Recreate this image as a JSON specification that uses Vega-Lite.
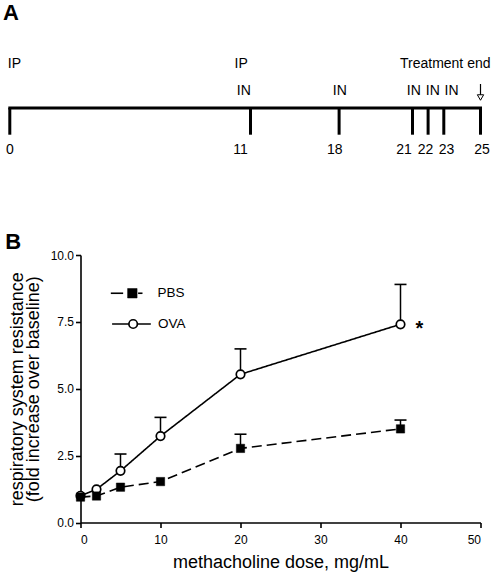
{
  "$schema": "https://vega.github.io/schema/vega-lite/v6.json",
  "padding": {"left": 2.5, "top": 2, "right": 0, "bottom": 0},
  "background": "white",
  "spacing": 68,
  "config": {
    "view": {"stroke": null},
    "font": "Liberation Sans",
    "text": {"fontWeight": "normal"},
    "axis": {"domainColor": "black", "domainWidth": 1.6, "tickColor": "black", "tickWidth": 1.6, "tickSize": 5, "labelFont": "Liberation Sans", "labelColor": "black", "labelFontSize": 12, "titleFont": "Liberation Sans", "titleFontWeight": "normal", "titleColor": "black", "titleFontSize": 18, "grid": false},
    "title": {"font": "Liberation Sans", "fontSize": 22, "fontWeight": "bold", "anchor": "start", "frame": "bounds", "baseline": "alphabetic", "color": "black"}
  },
  "vconcat": [
    {
      "width": 400,
      "height": 110,
      "title": {"text": "A", "offset": 26.7, "dx": -3},
      "resolve": {"scale": {"x": "independent"}},
      "layer": [
        {
          "layer": [
            {
              "data": {"values": [{"start": 0, "end": 25}]},
              "mark": {"type": "rule", "strokeWidth": 3, "color": "black", "strokeCap": "square"},
              "encoding": {
                "x": {"field": "start", "type": "quantitative", "scale": {"domain": [0, 11, 18, 21, 22, 23, 25], "range": [-70.7, 170, 258.6, 332, 347.6, 363.3, 400], "nice": false}, "axis": null},
                "x2": {"field": "end"},
                "y": {"datum": 56, "type": "quantitative", "scale": {"domain": [0, 110], "reverse": true, "nice": false}, "axis": null}
              }
            },
            {
              "data": {"values": [{"day": 0}, {"day": 11}, {"day": 18}, {"day": 21}, {"day": 22}, {"day": 23}, {"day": 25}]},
              "mark": {"type": "rule", "strokeWidth": 3, "color": "black", "strokeCap": "butt"},
              "encoding": {
                "x": {"field": "day", "type": "quantitative", "scale": {"domain": [0, 11, 18, 21, 22, 23, 25], "range": [-70.7, 170, 258.6, 332, 347.6, 363.3, 400], "nice": false}, "axis": null},
                "y": {"datum": 56, "type": "quantitative", "scale": {"domain": [0, 110], "reverse": true, "nice": false}, "axis": null},
                "y2": {"datum": 82.7}
              }
            },
            {
              "data": {"values": [{"day": 25, "event": "Treatment end"}]},
              "layer": [
                {
                  "mark": {"type": "text", "fontSize": 14, "align": "right", "baseline": "middle", "dx": 10, "color": "black"},
                  "encoding": {
                    "x": {"field": "day", "type": "quantitative", "scale": {"domain": [0, 11, 18, 21, 22, 23, 25], "range": [-70.7, 170, 258.6, 332, 347.6, 363.3, 400], "nice": false}, "axis": null},
                    "y": {"datum": 11.7, "type": "quantitative", "scale": {"domain": [0, 110], "reverse": true, "nice": false}, "axis": null},
                    "text": {"field": "event"}
                  }
                },
                {
                  "mark": {"type": "rule", "strokeWidth": 1.2, "color": "black"},
                  "encoding": {
                    "x": {"field": "day", "type": "quantitative", "scale": {"domain": [0, 11, 18, 21, 22, 23, 25], "range": [-70.7, 170, 258.6, 332, 347.6, 363.3, 400], "nice": false}, "axis": null},
                    "y": {"datum": 32, "type": "quantitative", "scale": {"domain": [0, 110], "reverse": true, "nice": false}, "axis": null},
                    "y2": {"datum": 45}
                  }
                },
                {
                  "mark": {"type": "point", "shape": "triangle-down", "size": 40, "filled": true, "fill": "white", "stroke": "black", "strokeWidth": 1, "opacity": 1},
                  "encoding": {
                    "x": {"field": "day", "type": "quantitative", "scale": {"domain": [0, 11, 18, 21, 22, 23, 25], "range": [-70.7, 170, 258.6, 332, 347.6, 363.3, 400], "nice": false}, "axis": null},
                    "y": {"datum": 45.5, "type": "quantitative", "scale": {"domain": [0, 110], "reverse": true, "nice": false}, "axis": null}
                  }
                }
              ]
            }
          ]
        },
        {
          "data": {"values": [{"day": 0}, {"day": 11}, {"day": 18}, {"day": 21}, {"day": 22}, {"day": 23}, {"day": 25}]},
          "mark": {"type": "text", "fontSize": 14, "align": "center", "baseline": "middle", "color": "black"},
          "encoding": {
            "x": {"field": "day", "type": "quantitative", "scale": {"domain": [0, 11, 18, 21, 22, 23, 25], "range": [-70.7, 160, 254.3, 323.6, 345, 366, 401.6], "nice": false}, "axis": null},
            "y": {"datum": 98.3, "type": "quantitative", "scale": {"domain": [0, 110], "reverse": true, "nice": false}, "axis": null},
            "text": {"field": "day"}
          }
        },
        {
          "data": {"values": [{"day": 11, "event": "IN"}, {"day": 18, "event": "IN"}, {"day": 21, "event": "IN"}, {"day": 22, "event": "IN"}, {"day": 23, "event": "IN"}]},
          "mark": {"type": "text", "fontSize": 14, "align": "center", "baseline": "middle", "color": "black"},
          "encoding": {
            "x": {"field": "day", "type": "quantitative", "scale": {"domain": [11, 18, 21, 22, 23], "range": [163.3, 259.3, 333.3, 352.3, 371], "nice": false}, "axis": null},
            "y": {"datum": 39.3, "type": "quantitative", "scale": {"domain": [0, 110], "reverse": true, "nice": false}, "axis": null},
            "text": {"field": "event"}
          }
        },
        {
          "data": {"values": [{"day": 0, "event": "IP"}, {"day": 11, "event": "IP"}]},
          "mark": {"type": "text", "fontSize": 14, "align": "left", "baseline": "middle", "color": "black"},
          "encoding": {
            "x": {"field": "day", "type": "quantitative", "scale": {"domain": [0, 11], "range": [-72.7, 154], "nice": false}, "axis": null},
            "y": {"datum": 11.7, "type": "quantitative", "scale": {"domain": [0, 110], "reverse": true, "nice": false}, "axis": null},
            "text": {"field": "event"}
          }
        }
      ]
    },
    {
      "width": 400,
      "height": 267.5,
      "title": {"text": "B", "offset": -4.5, "dx": -3},
      "data": {"values": [
        {"group": "OVA", "dose": 0, "mean": 1.0, "upper": null, "sig": null},
        {"group": "OVA", "dose": 2, "mean": 1.24, "upper": null, "sig": null},
        {"group": "OVA", "dose": 5, "mean": 1.93, "upper": 2.56, "sig": null},
        {"group": "OVA", "dose": 10, "mean": 3.23, "upper": 3.93, "sig": null},
        {"group": "OVA", "dose": 20, "mean": 5.54, "upper": 6.49, "sig": null},
        {"group": "OVA", "dose": 40, "mean": 7.41, "upper": 8.9, "sig": "*"},
        {"group": "PBS", "dose": 0, "mean": 0.95, "upper": null, "sig": null},
        {"group": "PBS", "dose": 2, "mean": 0.99, "upper": null, "sig": null},
        {"group": "PBS", "dose": 5, "mean": 1.32, "upper": null, "sig": null},
        {"group": "PBS", "dose": 10, "mean": 1.53, "upper": null, "sig": null},
        {"group": "PBS", "dose": 20, "mean": 2.77, "upper": 3.3, "sig": null},
        {"group": "PBS", "dose": 40, "mean": 3.5, "upper": 3.83, "sig": null}
      ]},
      "layer": [
        {
          "mark": {"type": "line", "color": "black", "strokeWidth": 1.6},
          "encoding": {
            "x": {"field": "dose", "type": "quantitative", "scale": {"domain": [0, 50], "nice": false}, "axis": {"values": [0, 10, 20, 30, 40, 50], "title": "methacholine dose, mg/mL", "labelPadding": 7, "titlePadding": 8}},
            "y": {"field": "mean", "type": "quantitative", "scale": {"domain": [0, 10], "nice": false}, "axis": {"values": [0, 2.5, 5, 7.5, 10], "format": ".1f", "labelPadding": 2, "title": ["respiratory system resistance", "(fold increase over baseline)"], "titleLineHeight": 16, "titlePadding": 8}},
            "strokeDash": {"field": "group", "type": "nominal", "scale": {"domain": ["PBS", "OVA"], "range": [[10, 5], [1, 0]]}, "legend": null}
          }
        },
        {
          "transform": [{"filter": "datum.upper != null"}],
          "mark": {"type": "rule", "color": "black", "strokeWidth": 1.5},
          "encoding": {
            "x": {"field": "dose", "type": "quantitative"},
            "y": {"field": "mean", "type": "quantitative"},
            "y2": {"field": "upper"}
          }
        },
        {
          "transform": [{"filter": "datum.upper != null"}],
          "mark": {"type": "tick", "orient": "horizontal", "color": "black", "size": 12, "thickness": 1.6, "opacity": 1},
          "encoding": {
            "x": {"field": "dose", "type": "quantitative"},
            "y": {"field": "upper", "type": "quantitative"}
          }
        },
        {
          "transform": [{"filter": "datum.group == 'OVA'"}],
          "mark": {"type": "point", "shape": "circle", "filled": true, "fill": "white", "stroke": "black", "strokeWidth": 1.7, "size": 72, "opacity": 1},
          "encoding": {
            "x": {"field": "dose", "type": "quantitative"},
            "y": {"field": "mean", "type": "quantitative"}
          }
        },
        {
          "transform": [{"filter": "datum.group == 'PBS'"}],
          "mark": {"type": "point", "shape": "square", "filled": true, "fill": "black", "stroke": "black", "strokeWidth": 0.5, "size": 70, "opacity": 1},
          "encoding": {
            "x": {"field": "dose", "type": "quantitative"},
            "y": {"field": "mean", "type": "quantitative"}
          }
        },
        {
          "transform": [{"filter": "datum.sig != null"}],
          "mark": {"type": "text", "fontSize": 20, "fontWeight": "bold", "dx": 19, "dy": 5, "baseline": "middle", "color": "black"},
          "encoding": {
            "x": {"field": "dose", "type": "quantitative"},
            "y": {"field": "mean", "type": "quantitative"},
            "text": {"field": "sig"}
          }
        },
        {
          "data": {"values": [{"series": "PBS"}]},
          "layer": [
            {
              "mark": {"type": "rule", "color": "black", "strokeWidth": 1.6},
              "encoding": {"x": {"datum": 3.79}, "x2": {"datum": 5.33}, "y": {"datum": 8.57}}
            },
            {
              "mark": {"type": "rule", "color": "black", "strokeWidth": 1.6},
              "encoding": {"x": {"datum": 7.2}, "x2": {"datum": 7.75}, "y": {"datum": 8.57}}
            },
            {
              "mark": {"type": "point", "shape": "square", "filled": true, "fill": "black", "stroke": "black", "strokeWidth": 0.5, "size": 90, "opacity": 1},
              "encoding": {"x": {"datum": 6.48}, "y": {"datum": 8.57}}
            },
            {
              "mark": {"type": "text", "fontSize": 13.5, "align": "left", "baseline": "middle", "color": "black"},
              "encoding": {"x": {"datum": 9.63}, "y": {"datum": 8.57}, "text": {"field": "series"}}
            }
          ]
        },
        {
          "data": {"values": [{"series": "OVA"}]},
          "layer": [
            {
              "mark": {"type": "rule", "color": "black", "strokeWidth": 1.6},
              "encoding": {"x": {"datum": 3.95}, "x2": {"datum": 8.79}, "y": {"datum": 7.42}}
            },
            {
              "mark": {"type": "point", "shape": "circle", "filled": true, "fill": "white", "stroke": "black", "strokeWidth": 1.7, "size": 72, "opacity": 1},
              "encoding": {"x": {"datum": 6.58}, "y": {"datum": 7.42}}
            },
            {
              "mark": {"type": "text", "fontSize": 13.5, "align": "left", "baseline": "middle", "color": "black"},
              "encoding": {"x": {"datum": 9.7}, "y": {"datum": 7.42}, "text": {"field": "series"}}
            }
          ]
        }
      ]
    }
  ]
}
